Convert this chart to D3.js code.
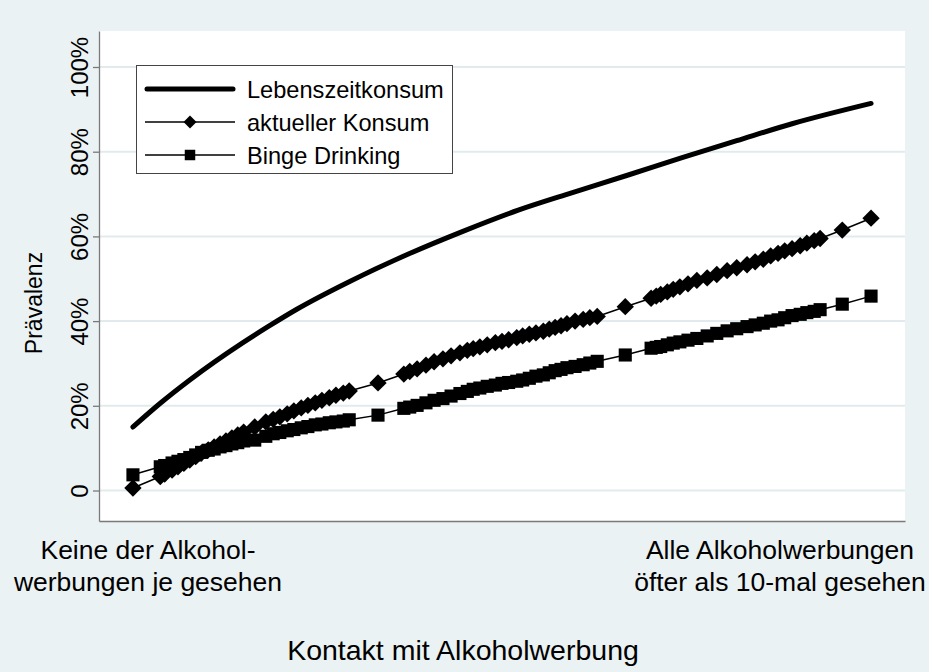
<!DOCTYPE html>
<html>
<head>
<meta charset="utf-8">
<script src="https://cdn.jsdelivr.net/npm/d3@7"></script>
<style>
  html, body { margin: 0; padding: 0; background: #eaf2f3; }
  svg { display: block; font-family: "Liberation Sans", Arial, Helvetica, sans-serif; }
</style>
</head>
<body>
<svg id="chart" width="929" height="672"></svg>
<script>
// ---------- data ----------
const seriesNames = ["Lebenszeitkonsum", "aktueller Konsum", "Binge Drinking"];

// Lebenszeitkonsum (smooth line) : exposure index (0 = none, 100 = all >10x) and prevalence %
const lifeX = [0, 3.7, 7.7, 14.8, 18.4, 22.2, 29.3, 37.4, 44.7, 52.2, 58.9, 67.1, 74.4, 81.8, 89.3, 100];
const lifeY = [15.0, 20.6, 26.1, 34.8, 38.8, 42.8, 49.3, 55.9, 61.2, 66.2, 70.0, 74.5, 78.6, 82.6, 86.6, 91.4];

// shared exposure positions for the marker series
const exposure = [0, 3.7, 4.3, 5.3, 6.1, 6.9, 7.7, 8.5, 9.3, 10.2, 11.0, 11.8, 12.6, 13.4, 14.2, 15.0,
  16.5, 18.0, 19.0, 19.9, 20.9, 21.8, 22.8, 23.7, 24.7, 25.6, 26.6, 27.5, 28.5, 29.3,
  33.2, 36.7, 37.5, 38.5, 39.7, 40.8, 42.0, 43.1, 44.3, 45.3, 46.1, 47.0, 48.0, 49.1, 50.0,
  50.9, 52.0, 52.8, 53.7, 54.6, 55.6, 56.4, 57.2, 58.0, 58.8, 59.9, 61.0, 61.9, 62.9,
  66.7, 70.2, 70.9, 71.5, 72.4, 73.2, 74.1, 75.2, 76.4, 77.8, 79.1, 80.5, 81.8, 83.2,
  84.3, 85.4, 86.4, 87.4, 88.3, 89.3, 90.4, 91.3, 92.3, 93.1, 96.1, 100];

const current = [0.6, 3.3, 3.9, 4.8, 5.6, 6.4, 7.2, 8.0, 8.9, 9.6, 10.3, 11.0, 11.7, 12.4, 13.1, 13.8,
  15.0, 16.2, 16.8, 17.4, 18.1, 18.8, 19.5, 20.1, 20.7, 21.3, 21.9, 22.5, 23.0, 23.5,
  25.4, 27.5, 28.1, 28.7, 29.6, 30.4, 31.1, 31.8, 32.5, 33.1, 33.5, 33.9, 34.4, 34.9, 35.2,
  35.6, 36.1, 36.5, 36.9, 37.2, 37.6, 38.1, 38.5, 38.9, 39.4, 40.0, 40.4, 40.8, 41.1,
  43.4, 45.4, 45.9, 46.3, 46.9, 47.5, 48.1, 48.8, 49.6, 50.2, 51.0, 51.9, 52.6, 53.3,
  54.0, 54.6, 55.4, 56.0, 56.6, 57.1, 57.8, 58.4, 59.0, 59.5, 61.5, 64.3];

const binge = [3.7, 5.6, 5.9, 6.5, 6.9, 7.3, 7.8, 8.4, 9.0, 9.5, 9.8, 10.3, 10.6, 11.0, 11.3, 11.7,
  11.9, 12.8, 13.4, 13.7, 14.1, 14.4, 14.8, 15.1, 15.5, 15.7, 16.0, 16.2, 16.4, 16.7,
  17.8, 19.4, 19.7, 20.1, 20.7, 21.3, 21.7, 22.3, 22.9, 23.4, 23.9, 24.2, 24.6, 24.9, 25.3,
  25.5, 25.8, 26.1, 26.5, 27.0, 27.3, 27.8, 28.3, 28.6, 29.0, 29.3, 29.7, 30.1, 30.5,
  32.0, 33.6, 33.8, 34.0, 34.4, 34.8, 35.1, 35.5, 35.9, 36.5, 37.1, 37.7, 38.2, 38.7,
  39.1, 39.5, 40.0, 40.3, 40.8, 41.3, 41.6, 42.0, 42.3, 42.7, 44.0, 45.9];

const yTicks = [0, 20, 40, 60, 80, 100];
const yTickLabels = ["0", "20%", "40%", "60%", "80%", "100%"];
const xEndLabels = [["Keine der Alkohol-", "werbungen je gesehen"], ["Alle Alkoholwerbungen", "öfter als 10-mal gesehen"]];
const xTitle = "Kontakt mit Alkoholwerbung";
const yTitle = "Prävalenz";

// ---------- layout ----------
const W = 929, H = 672;
const plot = { left: 99, right: 905, top: 31, bottom: 521 };
const svg = d3.select("#chart");

svg.append("rect").attr("width", W).attr("height", H).attr("fill", "#eaf2f3");
svg.append("rect")
  .attr("x", plot.left).attr("y", plot.top)
  .attr("width", plot.right - plot.left).attr("height", plot.bottom - plot.top)
  .attr("fill", "#ffffff");

const x = d3.scaleLinear().domain([-4.6, 104.6]).range([plot.left, plot.right]);
const y = d3.scaleLinear().domain([-7.2, 108.5]).range([plot.bottom, plot.top]);

// gridlines
svg.append("g").selectAll("line").data(yTicks).join("line")
  .attr("x1", plot.left).attr("x2", plot.right)
  .attr("y1", d => y(d)).attr("y2", d => y(d))
  .attr("stroke", "#e1ebee").attr("stroke-width", 2);

// y axis
const yAxis = svg.append("g").attr("transform", `translate(${plot.left},0)`)
  .call(d3.axisLeft(y).tickValues(yTicks).tickSize(6).tickSizeOuter(0)
    .tickFormat((d, i) => yTickLabels[i]));
yAxis.select(".domain").attr("stroke", "#7a7a7a").attr("stroke-width", 1.3);
yAxis.selectAll(".tick line").attr("stroke", "#7a7a7a").attr("stroke-width", 1.3);
yAxis.selectAll(".tick text")
  .attr("transform", "rotate(-90)")
  .attr("x", 0).attr("y", -11).attr("dy", 0)
  .attr("text-anchor", "middle")
  .attr("font-size", 24).attr("fill", "#000")
  .attr("font-family", "Liberation Sans, Arial, sans-serif");

// x axis (no ticks)
const xAxis = svg.append("g").attr("transform", `translate(0,${plot.bottom})`)
  .call(d3.axisBottom(x).tickValues([]).tickSizeOuter(0));
xAxis.select(".domain").attr("stroke", "#7a7a7a").attr("stroke-width", 1.3);

// lines
const lineGen = d3.line().x(d => x(d[0])).y(d => y(d[1]));
const smooth = d3.line().x(d => x(d[0])).y(d => y(d[1])).curve(d3.curveMonotoneX);

const curPts = exposure.map((e, i) => [e, current[i]]);
const bingePts = exposure.map((e, i) => [e, binge[i]]);
const lifePts = lifeX.map((e, i) => [e, lifeY[i]]);

svg.append("path").datum(bingePts).attr("d", lineGen)
  .attr("fill", "none").attr("stroke", "#000").attr("stroke-width", 1.5);
svg.append("path").datum(curPts).attr("d", lineGen)
  .attr("fill", "none").attr("stroke", "#000").attr("stroke-width", 1.5);

const sqSym = d3.symbol().type(d3.symbolSquare).size(172);
const diaSym = d3.symbol().type(d3.symbolSquare).size(150);

svg.append("g").selectAll("path").data(bingePts).join("path")
  .attr("d", sqSym)
  .attr("transform", d => `translate(${x(d[0])},${y(d[1])})`)
  .attr("fill", "#000");
svg.append("g").selectAll("path").data(curPts).join("path")
  .attr("d", diaSym)
  .attr("transform", d => `translate(${x(d[0])},${y(d[1])}) rotate(45)`)
  .attr("fill", "#000");

svg.append("path").datum(lifePts).attr("d", smooth)
  .attr("fill", "none").attr("stroke", "#000").attr("stroke-width", 5)
  .attr("stroke-linecap", "round").attr("stroke-linejoin", "round");

// legend
const lg = svg.append("g");
lg.append("rect").attr("x", 136.5).attr("y", 65.5).attr("width", 316).attr("height", 108)
  .attr("fill", "#fff").attr("stroke", "#444").attr("stroke-width", 1);
const rowY = [89, 122, 155];
lg.append("line").attr("x1", 147).attr("x2", 233).attr("y1", rowY[0]).attr("y2", rowY[0])
  .attr("stroke", "#000").attr("stroke-width", 5).attr("stroke-linecap", "round");
[1, 2].forEach(i => {
  lg.append("line").attr("x1", 145).attr("x2", 235).attr("y1", rowY[i]).attr("y2", rowY[i])
    .attr("stroke", "#000").attr("stroke-width", 1.3);
});
lg.append("path").attr("d", d3.symbol().type(d3.symbolSquare).size(85)())
  .attr("transform", `translate(190,${rowY[1]}) rotate(45)`).attr("fill", "#000");
lg.append("path").attr("d", d3.symbol().type(d3.symbolSquare).size(110)())
  .attr("transform", `translate(190,${rowY[2]})`).attr("fill", "#000");
lg.selectAll("text.lt").data(seriesNames).join("text")
  .attr("x", 247).attr("y", (d, i) => rowY[i] + 8.5)
  .attr("font-size", 23.6).attr("fill", "#000").text(d => d);

// x end labels
const endX = [148, 780];
xEndLabels.forEach((lines, k) => {
  lines.forEach((t, j) => {
    svg.append("text").attr("x", endX[k]).attr("y", 559 + j * 32)
      .attr("text-anchor", "middle").attr("font-size", 26.5).attr("fill", "#000").text(t);
  });
});

// titles
svg.append("text").attr("x", 463).attr("y", 660).attr("text-anchor", "middle")
  .attr("font-size", 28.5).attr("fill", "#000").text(xTitle);
svg.append("text").attr("transform", "translate(42,303) rotate(-90)")
  .attr("text-anchor", "middle").attr("font-size", 23).attr("fill", "#000").text(yTitle);
</script>
</body>
</html>
